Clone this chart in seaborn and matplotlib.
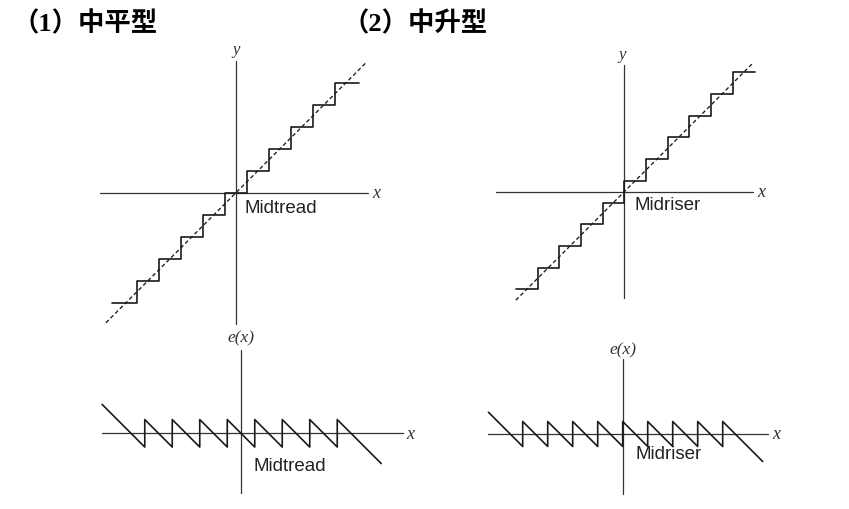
import numpy as np
import matplotlib
matplotlib.use("Agg")
import matplotlib.pyplot as plt
import seaborn as sns

sns.set_theme(style="white")

W, H = 849, 510

# quantizer staircases (x in units of the step size)
tread_edges = [-5.6, -4.5, -3.5, -2.5, -1.5, -0.5, 0.5, 1.5, 2.5, 3.5, 4.5, 5.6]
tread_levels = [-5, -4, -3, -2, -1, 0, 1, 2, 3, 4, 5]
riser_edges = [-5, -4, -3, -2, -1, 0, 1, 2, 3, 4, 5, 6]
riser_levels = [-4.5, -3.5, -2.5, -1.5, -0.5, 0.5, 1.5, 2.5, 3.5, 4.5, 5.5]

# ideal y = x reference lines
tread_diag = [-5.9, 5.95]
riser_diag = [-5.0, 5.95]

# error curves e(x) = Q(x) - x, quantizer saturating at the outer levels
err_tread_edges = [-5.05, -3.5, -2.5, -1.5, -0.5, 0.5, 1.5, 2.5, 3.5, 5.1]
err_tread_levels = [-4, -3, -2, -1, 0, 1, 2, 3, 4]
err_riser_edges = [-5.37, -4, -3, -2, -1, 0, 1, 2, 3, 4, 5.6]
err_riser_levels = [-4.5, -3.5, -2.5, -1.5, -0.5, 0.5, 1.5, 2.5, 3.5, 4.5]

titles = ["（1）中平型", "（2）中升型"]

fig = plt.figure(figsize=(W / 100, H / 100), dpi=100)
fig.patch.set_facecolor("white")

LINE = "#1a1a1a"
AXC = "#333333"
serif_it = dict(family="Liberation Serif", style="italic", color="#333333")
sans = dict(family="Liberation Sans", color="#222222", fontsize=13.5)


def panel(name, ox, oy, d):
    # one transparent axes per diagram, 1 data unit = one step (d pixels)
    ax = fig.add_axes([0, 0, 1, 1], label=name)
    ax.set_xlim(-ox / d, (W - ox) / d)
    ax.set_ylim(-(H - oy) / d, oy / d)
    ax.patch.set_alpha(0)
    ax.axis("off")
    return ax


def draw_axes(ax, xr, yr):
    ax.plot(xr, [0, 0], color=AXC, lw=0.9)
    ax.plot([0, 0], yr, color=AXC, lw=0.9)


def staircase(ax, edges, levels, diag):
    xs = edges
    ys = levels + [levels[-1]]
    sns.lineplot(x=xs, y=ys, ax=ax, drawstyle="steps-post", color=LINE,
                 lw=1.2, estimator=None, sort=False)
    sns.lineplot(x=diag, y=diag, ax=ax, color=LINE, lw=0.95,
                 linestyle=(0, (3, 2)), estimator=None, sort=False)


def sawtooth(ax, edges, levels):
    xs, ys = [], []
    for i, q in enumerate(levels):
        for xv in (edges[i], edges[i + 1]):
            xs.append(xv)
            ys.append(q - xv)
    sns.lineplot(x=xs, y=ys, ax=ax, color=LINE, lw=1.2,
                 estimator=None, sort=False)


# (1) midtread
ax1 = panel("tl", 235.7, 194, 22)
draw_axes(ax1, [-6.17, 6.01], [-5.95, 6.0])
staircase(ax1, tread_edges, tread_levels, tread_diag)
ax1.text(0, 6.55, "y", ha="center", va="center", fontsize=12, **serif_it)
ax1.text(6.4, 0, "x", ha="center", va="center", fontsize=13, **serif_it)
ax1.text(0.42, -0.64, "Midtread", ha="left", va="center", **sans)

# (2) midriser
ax2 = panel("tr", 624.3, 192.7, 21.7)
draw_axes(ax2, [-5.92, 5.94], [-4.9, 5.84])
staircase(ax2, riser_edges, riser_levels, riser_diag)
ax2.text(-0.1, 6.35, "y", ha="center", va="center", fontsize=12, **serif_it)
ax2.text(6.29, 0, "x", ha="center", va="center", fontsize=13, **serif_it)
ax2.text(0.45, -0.57, "Midriser", ha="left", va="center", **sans)

# error of midtread
ax3 = panel("bl", 241, 434.3, 27.5)
draw_axes(ax3, [-5.04, 5.9], [-2.17, 3.04])
sawtooth(ax3, err_tread_edges, err_tread_levels)
ax3.text(0, 3.47, "e(x)", ha="center", va="center", fontsize=12.5, **serif_it)
ax3.text(6.17, 0, "x", ha="center", va="center", fontsize=13, **serif_it)
ax3.text(0.45, -1.18, "Midtread", ha="left", va="center", **sans)

# error of midriser
ax4 = panel("br", 622.7, 435, 25)
draw_axes(ax4, [-5.38, 5.82], [-2.4, 3.0])
sawtooth(ax4, err_riser_edges, err_riser_levels)
ax4.text(0, 3.4, "e(x)", ha="center", va="center", fontsize=12.5, **serif_it)
ax4.text(6.13, 0, "x", ha="center", va="center", fontsize=13, **serif_it)
ax4.text(0.52, -0.8, "Midriser", ha="left", va="center", **sans)

title_font = ["Liberation Serif", "Noto Sans CJK SC"]
fig.text(13 / W, 1 - 24 / H, titles[0], ha="left", va="center", fontsize=19,
         fontweight="bold", family=title_font, color="black")
fig.text(343 / W, 1 - 24 / H, titles[1], ha="left", va="center", fontsize=19,
         fontweight="bold", family=title_font, color="black")

fig.savefig("out.png", dpi=100, facecolor="white")
